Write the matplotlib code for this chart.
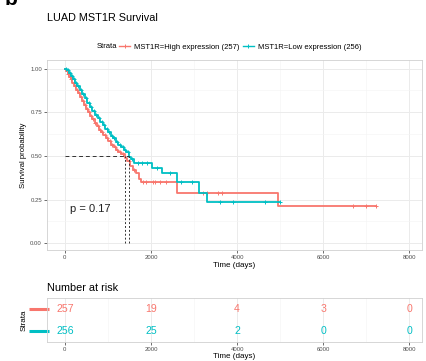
import numpy as np
import matplotlib
matplotlib.use('Agg')
from matplotlib import pyplot as plt
from matplotlib.lines import Line2D

plt.rcParams['font.family'] = ['Liberation Sans', 'DejaVu Sans']

# Kaplan-Meier steps
high_time = [0, 30, 60, 95, 130, 175, 220, 265, 310, 355, 400, 445, 495, 540, 590, 640,
             690, 740, 790, 840, 890, 950, 1010, 1070, 1130, 1190, 1240, 1300, 1400, 1450,
             1510, 1570, 1640, 1710, 1760, 2600, 4950, 7230]
high_surv = [1.0, 0.985, 0.97, 0.955, 0.94, 0.92, 0.90, 0.88, 0.86, 0.84, 0.815, 0.79,
             0.77, 0.75, 0.73, 0.71, 0.69, 0.67, 0.65, 0.635, 0.62, 0.60, 0.585, 0.565,
             0.55, 0.535, 0.52, 0.51, 0.49, 0.47, 0.44, 0.42, 0.40, 0.37, 0.35, 0.287,
             0.213, 0.213]
low_time = [0, 45, 90, 140, 190, 240, 290, 340, 400, 460, 520, 580, 640, 700, 760, 820,
            880, 940, 1000, 1060, 1120, 1180, 1240, 1300, 1370, 1430, 1490, 1540, 1600,
            2020, 2250, 2600, 3110, 3310, 4990]
low_surv = [1.0, 0.99, 0.975, 0.96, 0.94, 0.92, 0.90, 0.88, 0.855, 0.83, 0.805, 0.78,
            0.755, 0.735, 0.715, 0.695, 0.675, 0.655, 0.635, 0.615, 0.60, 0.58, 0.565,
            0.55, 0.535, 0.52, 0.495, 0.48, 0.46, 0.43, 0.40, 0.35, 0.29, 0.235, 0.235]

high_censor = [40, 80, 110, 150, 200, 240, 290, 330, 380, 420, 470, 520, 560, 610, 660,
               710, 760, 810, 860, 920, 980, 1040, 1100, 1160, 1220, 1270, 1350, 1480, 1600,
               1820, 1880, 2050, 2100, 2200, 2350, 3200, 3300, 3550, 3650, 6700, 7000, 7230]
low_censor = [20, 65, 110, 160, 210, 260, 310, 370, 430, 490, 550, 610, 670, 730, 790,
              850, 910, 970, 1030, 1090, 1150, 1210, 1270, 1340, 1400, 1460, 1560, 1700,
              1780, 1900, 2150, 2450, 2700, 2950, 3600, 3900, 4650, 4990]

labels = ['MST1R=High expression (257)', 'MST1R=Low expression (256)']
colors = ['#F8766D', '#00BFC4']
risk_times = [0, 2000, 4000, 6000, 8000]
risk_high = [257, 19, 4, 3, 0]
risk_low = [256, 25, 2, 0, 0]
pval_text = 'p = 0.17'

tick_col = '#4D4D4D'
grid_col = '#EBEBEB'
xlim = (-420, 8300)


def step_value(times, surv, t):
    idx = np.searchsorted(times, t, side='right') - 1
    return np.array(surv)[idx]


def style_axes(ax):
    for sp in ax.spines.values():
        sp.set_color('#D0D0D0')
        sp.set_linewidth(0.6)
    ax.tick_params(colors='#333333', labelcolor=tick_col, labelsize=4.3,
                   length=2, width=0.5, pad=1.5)
    ax.set_axisbelow(True)


fig = plt.figure(figsize=(4.26, 3.61), dpi=100)

# main survival panel
ax = fig.add_axes([0.110, 0.307, 0.881, 0.527])
style_axes(ax)
ax.set_xlim(*xlim)
ax.set_ylim(-0.04, 1.05)
ax.set_xticks(risk_times)
ax.set_xticks([1000, 3000, 5000, 7000], minor=True)
ax.set_yticks([0, 0.25, 0.5, 0.75, 1.0])
ax.set_yticks([0.125, 0.375, 0.625, 0.875], minor=True)
ax.set_yticklabels(['0.00', '0.25', '0.50', '0.75', '1.00'])
ax.tick_params(which='minor', length=0)
ax.grid(True, which='major', color=grid_col, lw=0.7)
ax.grid(True, which='minor', color='#F4F4F4', lw=0.4)

groups = [(high_time, high_surv, high_censor), (low_time, low_surv, low_censor)]
medians = []
for (t, s, c), col in zip(groups, colors):
    ax.step(t, s, where='post', color=col, lw=1.3)
    ax.plot(c, step_value(t, s, c), ls='none', marker='+', ms=3.5, mew=0.7, color=col)
    medians.append(t[int(np.argmax(np.array(s) <= 0.5))])

# median lines
ax.plot([0, max(medians)], [0.5, 0.5], ls=(0, (4, 3)), color='#333333', lw=0.7)
for m in medians:
    ax.plot([m, m], [0, 0.5], ls=(0, (2, 2)), color='#333333', lw=0.7)

ax.text(120, 0.195, pval_text, fontsize=8, va='center', ha='left', color='#222222')
ax.set_xlabel('Time (days)', fontsize=5.8, labelpad=1.5)
ax.set_ylabel('Survival probability', fontsize=5.6, labelpad=2)

# legend
fig.text(97 / 426, 1 - 47 / 361, 'Strata', fontsize=5.5, va='center', ha='left')
handles = [Line2D([], [], color=c, lw=1.0, marker='+', ms=3.5, mew=0.7) for c in colors]
fig.legend(handles, labels, ncol=2, loc='center left', bbox_to_anchor=(119 / 426, 1 - 47 / 361),
           frameon=False, fontsize=5.5, handlelength=1.5, handletextpad=0.5,
           columnspacing=0.4, borderpad=0, borderaxespad=0)

fig.text(47 / 426, 1 - 18 / 361, 'LUAD MST1R Survival', fontsize=7.8, va='center', ha='left')
fig.text(5 / 426, 1 - 5 / 361, 'b', fontsize=15, weight='bold', va='baseline', ha='left')

# risk table
rax = fig.add_axes([0.110, 0.053, 0.881, 0.122])
style_axes(rax)
rax.set_xlim(*xlim)
rax.set_ylim(0, 2)
rax.set_xticks(risk_times)
rax.set_xticks([1000, 3000, 5000, 7000], minor=True)
rax.tick_params(which='minor', length=0)
rax.set_yticks([])
rax.grid(True, which='major', axis='x', color=grid_col, lw=0.7)
rax.grid(True, which='minor', axis='x', color='#F4F4F4', lw=0.4)
for row, counts, col in [(1.5, risk_high, colors[0]), (0.5, risk_low, colors[1])]:
    for x, n in zip(risk_times, counts):
        rax.text(x, row, str(n), color=col, fontsize=7.6, ha='center', va='center')
    rax.plot([-0.047, 0.005], [row, row], color=col, lw=2.2, transform=rax.get_yaxis_transform(),
             clip_on=False, solid_capstyle='butt')
rax.set_xlabel('Time (days)', fontsize=5.8, labelpad=1.2)
rax.set_ylabel('Strata', fontsize=5.8, labelpad=14)
fig.text(47 / 426, 1 - 288 / 361, 'Number at risk', fontsize=7.8, va='center', ha='left')

fig.savefig('out.png', dpi=100)
